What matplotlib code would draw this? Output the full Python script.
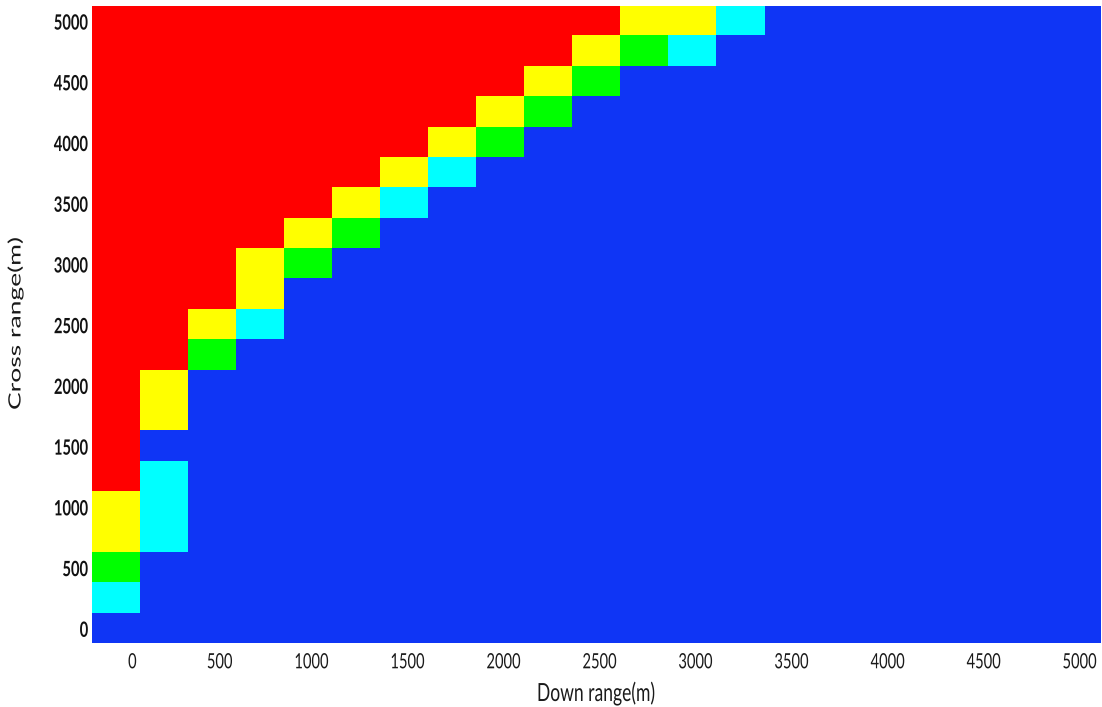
import numpy as np
import matplotlib
matplotlib.use("Agg")
import matplotlib.pyplot as plt
from matplotlib.colors import ListedColormap, BoundaryNorm
from matplotlib.patheffects import AbstractPathEffect
from matplotlib.transforms import Affine2D, ScaledTranslation

# Grid axes (m)
down_range = np.arange(0, 5001, 250)
cross_range = np.arange(0, 5001, 250)
cell = 250

# Class of each cell, one string per cross-range row, from 5000 m down to 0 m.
# 0 = blue, 1 = cyan, 2 = green, 3 = yellow, 4 = red
rows_top_down = [
    "444444444443310000000",
    "444444444432100000000",
    "444444444320000000000",
    "444444443200000000000",
    "444444432000000000000",
    "444444310000000000000",
    "444443100000000000000",
    "444432000000000000000",
    "444320000000000000000",
    "444300000000000000000",
    "443100000000000000000",
    "442000000000000000000",
    "430000000000000000000",
    "430000000000000000000",
    "400000000000000000000",
    "410000000000000000000",
    "310000000000000000000",
    "310000000000000000000",
    "200000000000000000000",
    "100000000000000000000",
    "000000000000000000000",
]
level_colors = ["#0F35F5", "#00FFFF", "#00FF00", "#FFFF00", "#FF0000"]

tick_values = np.arange(0, 5001, 500)
tick_labels = [str(v) for v in tick_values]
x_title = "Down range(m)"
y_title = "Cross range(m)"


class Stretch(AbstractPathEffect):
    """Scale a text path in display space about its drawing origin."""

    def __init__(self, sx=1.0, sy=1.0):
        super().__init__()
        self.sx = sx
        self.sy = sy

    def draw_path(self, renderer, gc, tpath, affine, rgbFace=None):
        x0, y0 = affine.transform((0.0, 0.0))
        st = Affine2D().translate(-x0, -y0).scale(self.sx, self.sy).translate(x0, y0)
        renderer.draw_path(gc, tpath, affine + st, rgbFace)


W_PX, H_PX = 1102, 707
fig = plt.figure(figsize=(W_PX / 100, H_PX / 100), dpi=100)

left, right, top, bottom = 91.7, 1100.0, 5.7, 643.3
ax = fig.add_axes([left / W_PX, 1 - bottom / H_PX,
                   (right - left) / W_PX, (bottom - top) / H_PX])

grid = np.array([[int(ch) for ch in row] for row in rows_top_down[::-1]])
cmap = ListedColormap(level_colors)
norm = BoundaryNorm(np.arange(-0.5, len(level_colors)), cmap.N)
ax.imshow(grid, cmap=cmap, norm=norm, origin="lower", aspect="auto",
          interpolation="nearest",
          extent=(down_range[0] - cell / 2, down_range[-1] + cell / 2,
                  cross_range[0] - cell / 2, cross_range[-1] + cell / 2))

for sp in ax.spines.values():
    sp.set_visible(False)

ax.set_xticks(tick_values, tick_labels)
ax.set_yticks(tick_values, tick_labels)
ax.tick_params(length=0, pad=0)

px = 1 / 100.0
for lab in ax.get_xticklabels():
    lab.set_fontfamily("Lato")
    lab.set_fontsize(10.6)
    lab.set_color("#1a1a1a")
    lab.set_horizontalalignment("right")
    lab.set_verticalalignment("baseline")
    lab.set_transform(lab.get_transform()
                      + ScaledTranslation(21 * px, -25 * px, fig.dpi_scale_trans))
    lab.set_path_effects([Stretch(1.0, 1.43)])

for lab in ax.get_yticklabels():
    lab.set_fontfamily("Lato")
    lab.set_fontsize(10.6)
    lab.set_fontweight("bold")
    lab.set_color("#111111")
    lab.set_horizontalalignment("right")
    lab.set_verticalalignment("baseline")
    lab.set_transform(lab.get_transform()
                      + ScaledTranslation(-3.4 * px, -8.7 * px, fig.dpi_scale_trans))
    lab.set_path_effects([Stretch(1.0, 1.43)])

fig.text(596 / W_PX, 1 - 701 / H_PX, x_title, ha="center", va="baseline",
         family="Lato", fontsize=12.6, color="#1a1a1a",
         path_effects=[Stretch(1.0, 1.43)])

fig.text(20.5 / W_PX, 1 - 410 / H_PX, y_title, rotation=90,
         rotation_mode="anchor", ha="left", va="baseline",
         family="Lato", fontsize=12.2, color="#1a1a1a",
         path_effects=[Stretch(1.0, 1.56)])

fig.savefig("out.png", dpi=100)
